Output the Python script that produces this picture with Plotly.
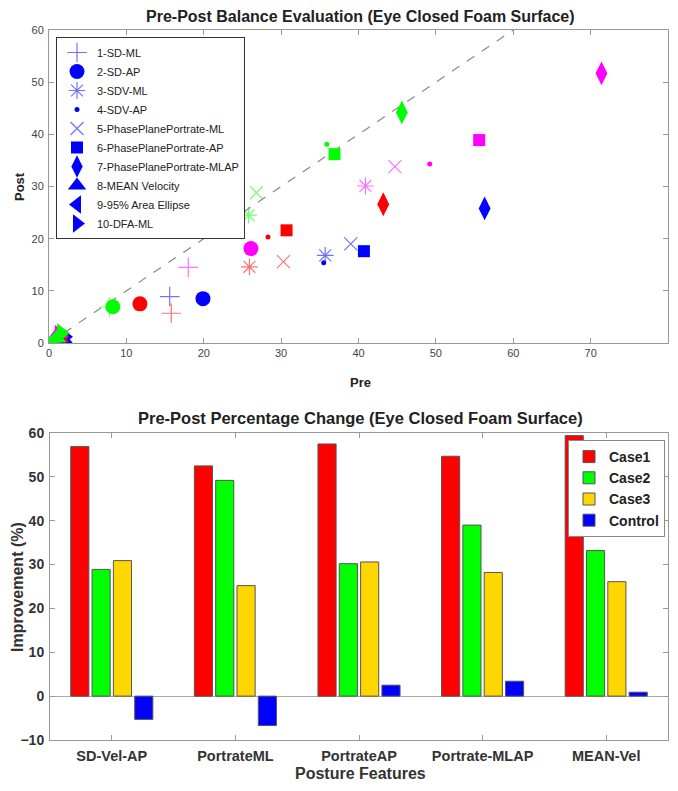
import plotly.graph_objects as go

# ---------------- Top chart data (Pre vs Post) ----------------
features = ["1-SD-ML", "2-SD-AP", "3-SDV-ML", "4-SDV-AP", "5-PhasePlanePortrate-ML",
            "6-PhasePlanePortrate-AP", "7-PhasePlanePortrate-MLAP", "8-MEAN Velocity",
            "9-95% Area Ellipse", "10-DFA-ML"]

blue_pre = [15.6, 19.9, 35.7, 35.5, 39.0, 40.7, 56.3, 1.8, 1.5, 2.0]
blue_post = [8.9, 8.5, 16.8, 15.4, 19.0, 17.6, 25.8, 0.8, 0.5, 1.2]
red_pre = [15.8, 11.75, 25.9, 28.3, 30.3, 30.7, 43.2, 1.3, 1.0, 1.5]
red_post = [5.7, 7.5, 14.6, 20.3, 15.6, 21.6, 26.6, 1.0, 0.6, 1.3]
magenta_pre = [18.0, 26.1, 40.9, 49.2, 44.7, 55.6, 71.4, 1.2, 0.9, 1.3]
magenta_post = [14.5, 18.1, 30.1, 34.3, 33.8, 38.9, 51.7, 1.8, 0.8, 1.6]
green_pre = [7.8, 8.25, 25.8, 35.9, 26.8, 36.9, 45.6, 1.0, 0.4, 1.6]
green_post = [6.9, 6.96, 24.5, 38.1, 28.8, 36.2, 44.2, 0.9, 0.3, 1.9]

diag = [0, 60]

# ---------------- Bottom chart data (percentage change) ----------------
categories = ["SD-Vel-AP", "PortrateML", "PortrateAP", "Portrate-MLAP", "MEAN-Vel"]
case1 = [56.9, 52.5, 57.5, 54.7, 59.4]
case2 = [28.9, 49.2, 30.2, 39.0, 33.2]
case3 = [30.9, 25.2, 30.6, 28.2, 26.1]
control = [-5.3, -6.7, 2.5, 3.4, 0.9]

# ---------------- styles ----------------
symbols = ["cross-thin", "circle", "asterisk", "circle", "x-thin", "square",
           "diamond-tall", "triangle-up", "triangle-left", "triangle-right"]
sizes = [14, 15, 14, 5, 13, 12, 17, 17, 17, 17]
thin = [True, False, True, False, True, False, False, False, False, False]

FONT = "Liberation Sans, Arial, Helvetica, sans-serif"

fig = go.Figure()

fig.add_trace(go.Scatter(x=diag, y=diag, mode="lines",
                         line=dict(color="#888888", width=1.2, dash="dash"),
                         showlegend=False, hoverinfo="skip", xaxis="x", yaxis="y"))

groups = [("#0000FF", blue_pre, blue_post, True),
          ("#FF0000", red_pre, red_post, False),
          ("#FF00FF", magenta_pre, magenta_post, False),
          ("#00FF00", green_pre, green_post, False)]

for color, pre, post, show in groups:
    for i, name in enumerate(features):
        if thin[i]:
            marker = dict(symbol=symbols[i], size=sizes[i], color=color, opacity=0.55,
                          line=dict(color=color, width=1.2))
        else:
            marker = dict(symbol=symbols[i], size=sizes[i], color=color,
                          line=dict(width=0))
        fig.add_trace(go.Scatter(x=[pre[i]], y=[post[i]], mode="markers", name=name,
                                 marker=marker, legendgroup=name, showlegend=show,
                                 legend="legend", xaxis="x", yaxis="y"))

bar_colors = ["#FF0000", "#00FF00", "#FFD700", "#0000FF"]
bar_names = ["Case1", "Case2", "Case3", "Control"]
for vals, col, nm in zip([case1, case2, case3, control], bar_colors, bar_names):
    fig.add_trace(go.Bar(x=categories, y=vals, name=nm, marker=dict(color=col,
                         line=dict(color="#555555", width=1)),
                         xaxis="x2", yaxis="y2", legend="legend2"))

# page has an 8px body margin; size the figure so the page is exactly 678x791
OFF = 8
W, H = 678 - 2 * OFF, 791 - 2 * OFF
def px(v):
    return min(max((v - OFF) / W, 0.0), 0.997)
def py(v):
    return min(max(1 - (v - OFF) / H, 0.0), 1.0)

axis_common = dict(showline=True, linecolor="#999999", linewidth=1, mirror="ticks",
                   ticks="inside", ticklen=5, tickcolor="#999999", showgrid=False,
                   zeroline=False, automargin=False)

def label(text, x, y, size, angle=0, color="#222222"):
    return dict(text=text, x=px(x), y=py(y), xref="paper", yref="paper",
                xanchor="center", yanchor="middle", showarrow=False, textangle=angle,
                font=dict(size=size, color=color, weight="bold"))

fig.update_layout(
    width=W, height=H, margin=dict(l=0, r=0, t=0, b=0, autoexpand=False),
    plot_bgcolor="white", paper_bgcolor="white",
    font=dict(family=FONT),
    barmode="group", bargap=0.31, bargroupgap=0.15,
    xaxis=dict(domain=[px(49), px(673)], range=[0, 80], dtick=10, anchor="y",
               tickfont=dict(size=11, color="#444444"), **axis_common),
    yaxis=dict(domain=[py(343), py(30)], range=[0, 60], dtick=10, anchor="x",
               tickfont=dict(size=11, color="#444444"), ticklabelstandoff=2,
               **axis_common),
    xaxis2=dict(domain=[px(50), px(671)], range=[-0.5, 4.5], anchor="y2",
                tickfont=dict(size=14.5, color="#333333", weight="bold"),
                ticklabelstandoff=3, **axis_common),
    yaxis2=dict(domain=[py(740), py(433)], range=[-10, 60], dtick=10, anchor="x2",
                tickfont=dict(size=14, color="#333333", weight="bold"),
                ticklabelstandoff=2,
                **{**axis_common, "zeroline": True}, zerolinecolor="#aaaaaa",
                zerolinewidth=1),
    legend=dict(x=px(56), y=py(37), xanchor="left", yanchor="top",
                bgcolor="white", bordercolor="#333333", borderwidth=1,
                font=dict(size=11, color="#222222"), tracegroupgap=0,
                itemsizing="trace"),
    legend2=dict(x=px(665), y=py(440), xanchor="right", yanchor="top",
                 bgcolor="white", bordercolor="#888888", borderwidth=1,
                 font=dict(size=14, color="#222222", weight="bold")),
    annotations=[
        label("Pre-Post Balance Evaluation (Eye Closed Foam Surface)", 361, 17, 16),
        label("Pre", 361, 382, 13),
        label("Post", 19, 187, 13, angle=-90),
        label("Pre-Post Percentage Change (Eye Closed Foam Surface)", 361, 418, 16.5),
        label("Improvement (%)", 17, 587, 16, angle=-90, color="#333333"),
        label("Posture Features", 361, 773, 16, color="#333333"),
    ],
)

fig.write_html("out.html")
